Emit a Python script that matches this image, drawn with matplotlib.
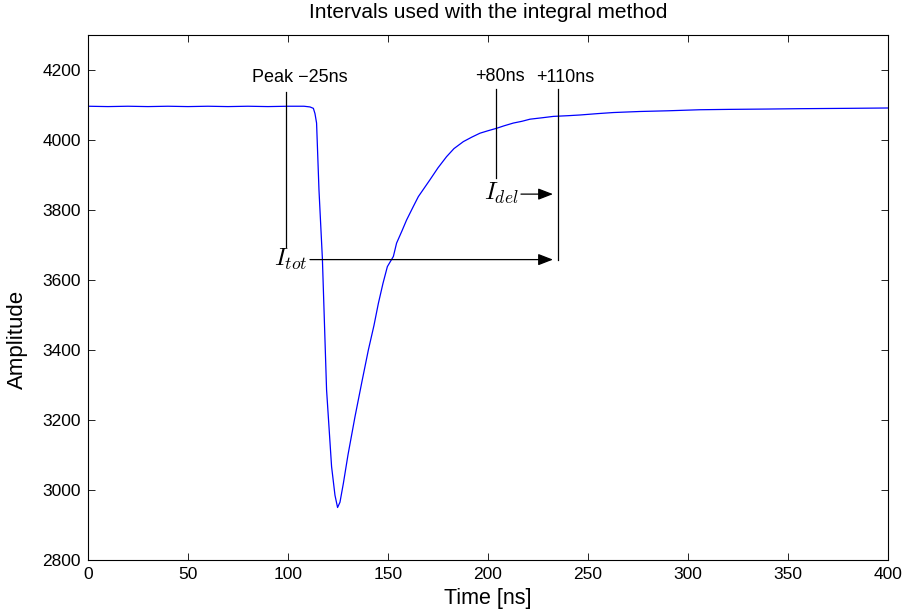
import matplotlib
matplotlib.use("Agg")
import matplotlib.pyplot as plt

plt.rcParams["font.family"] = ["Liberation Sans", "DejaVu Sans"]
plt.rcParams["mathtext.fontset"] = "cm"

# Sampled pulse waveform (time in ns, ADC amplitude)
time_ns = [0, 10, 20, 30, 40, 50, 60, 70, 80, 90, 100, 108, 111, 112.7, 113.5,
           114.3, 115.5, 117.2, 119.3, 121.8, 123.5, 124.8, 126, 127.7, 130,
           133.5, 137, 140.2, 143, 145.2, 147.5, 149.7, 152.7, 154.3, 157,
           159.3, 162.7, 165.2, 171, 175, 179.3, 183, 187.7, 192, 196, 200,
           204.3, 208, 212.7, 217, 221, 227, 232.7, 240, 246, 255, 262.7, 276,
           290, 306, 320, 340, 356, 380, 400]
amplitude = [4096, 4095, 4096, 4095, 4096, 4095, 4096, 4095, 4096, 4095, 4096,
             4096, 4094, 4090, 4075, 4048, 3857, 3662, 3286, 3067, 2985, 2950,
             2965, 3019, 3100, 3209, 3310, 3400, 3470, 3533, 3590, 3638, 3667,
             3705, 3740, 3771, 3810, 3838, 3886, 3920, 3952, 3975, 3995, 4008,
             4019, 4026, 4033, 4040, 4048, 4053, 4059, 4063, 4067, 4069, 4071,
             4075, 4078, 4081, 4083, 4086, 4087, 4088, 4089, 4090, 4091]

# Interval markers
peak_minus_25 = 99
plus_80 = 204
plus_110 = 235
y_ticks = [2800, 3000, 3200, 3400, 3600, 3800, 4000, 4200]
x_ticks = [0, 50, 100, 150, 200, 250, 300, 350, 400]

fig = plt.figure(figsize=(9.07, 6.15), dpi=100)
ax = fig.add_axes([0.097, 0.0894, 0.882, 0.854])

ax.plot(time_ns, amplitude, color="#0000ff", lw=0.9)

# vertical interval boundaries
ax.plot([peak_minus_25, peak_minus_25], [3693, 4138], color="black", lw=0.9)
ax.plot([plus_80, plus_80], [3891, 4146], color="black", lw=0.9)
ax.plot([plus_110, plus_110], [3657, 4146], color="black", lw=0.9)

ax.text(106, 4177, "Peak \u221225ns", ha="center", va="center", fontsize=13)
ax.text(206, 4180, "+80ns", ha="center", va="center", fontsize=13)
ax.text(238.5, 4177, "+110ns", ha="center", va="center", fontsize=13)

arrow = dict(arrowstyle="-|>,head_length=0.9,head_width=0.35", color="black",
             lw=0.9, shrinkA=0, shrinkB=0, mutation_scale=10)
ax.annotate("", xy=(232.5, 3658), xytext=(111, 3658), arrowprops=arrow)
ax.annotate("", xy=(232.5, 3845), xytext=(216.5, 3845), arrowprops=arrow)
ax.text(110, 3660, r"$I_{tot}$", ha="right", va="center", fontsize=18)
ax.text(215.5, 3846, r"$I_{del}$", ha="right", va="center", fontsize=18)

ax.set_xlim(0, 400)
ax.set_ylim(2800, 4300)
ax.set_xticks(x_ticks)
ax.set_yticks(y_ticks)
ax.tick_params(direction="in", top=True, right=True, labelsize=12.5,
               length=5, width=0.6, pad=5)
for s in ax.spines.values():
    s.set_linewidth(0.8)

ax.set_xlabel("Time [ns]", fontsize=15.5, labelpad=4)
ax.set_ylabel("Amplitude", fontsize=16)
ax.yaxis.set_label_coords(-0.075, 0.42)
ax.set_title("Intervals used with the integral method", fontsize=15, pad=12)

fig.savefig("out.png", dpi=100)
